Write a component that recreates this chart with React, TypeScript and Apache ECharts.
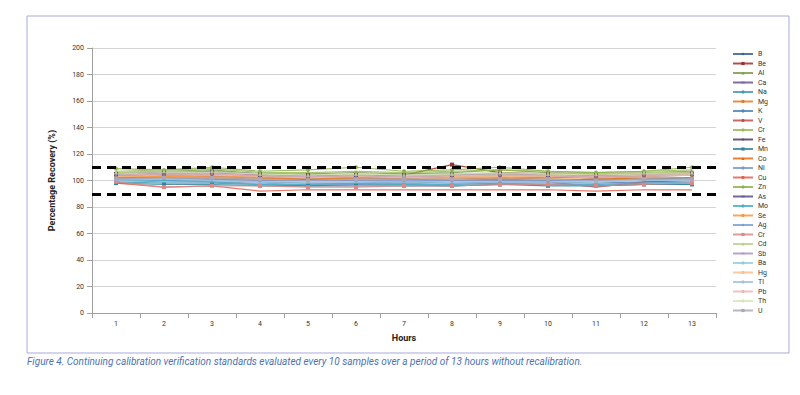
import React, { useEffect, useRef } from "react";
import * as echarts from "echarts";

const hours = ["1", "2", "3", "4", "5", "6", "7", "8", "9", "10", "11", "12", "13"];

const elements = ["B", "Be", "Al", "Ca", "Na", "Mg", "K", "V", "Cr", "Fe", "Mn", "Co", "Ni", "Cu", "Zn", "As", "Mo", "Se", "Ag", "Cr", "Cd", "Sb", "Ba", "Hg", "Tl", "Pb", "Th", "U"];

const B = [103, 104, 103, 102, 101, 102, 101, 100, 101, 100, 101, 101, 102];
const Be = [105, 106, 106, 104, 104, 104, 104, 112, 106, 105, 104, 104, 105];
const Al = [106, 107, 108, 105, 105, 106, 105, 106, 108, 106, 105, 106, 107];
const Ca = [104, 105, 106, 104, 103, 104, 103, 104, 105, 104, 103, 104, 105];
const Na = [99, 98, 98, 97, 96, 97, 97, 96, 97, 97, 96, 97, 97];
const Mg = [102, 103, 104, 102, 101, 102, 102, 103, 103, 102, 103, 104, 104];
const K = [101, 100, 100, 99, 98, 98, 99, 98, 99, 99, 98, 99, 100];
const V = [102, 101, 101, 100, 100, 100, 99, 100, 100, 99, 95, 99, 100];
const Cr = [107, 108, 109, 106, 106, 107, 106, 107, 108, 107, 106, 107, 108];
const Fe = [104, 104, 105, 103, 102, 103, 102, 103, 103, 103, 102, 103, 104];
const Mn = [98, 97, 97, 96, 96, 96, 96, 96, 97, 96, 96, 97, 97];
const Co = [103, 102, 102, 101, 101, 101, 101, 101, 102, 101, 101, 102, 102];
const Ni = [100, 99, 99, 98, 97, 97, 98, 97, 98, 98, 97, 98, 99];
const Cu = [98, 95, 96, 92, 93, 93, 93, 93, 93, 93, 92, 93, 93];
const Zn = [109, 108, 110, 107, 108, 110, 107, 108, 110, 107, 106, 107, 110];
const As = [105, 106, 107, 105, 104, 104, 104, 105, 105, 105, 104, 105, 106];
const Mo = [100, 100, 99, 97, 97, 98, 97, 97, 98, 97, 97, 98, 98];
const Se = [103, 103, 103, 102, 102, 102, 102, 102, 103, 104, 105, 105, 106];
const Ag = [102, 102, 101, 100, 100, 100, 100, 100, 100, 100, 100, 101, 101];
const Cr2 = [99, 95, 96, 96, 95, 95, 96, 96, 97, 97, 96, 97, 98];
const Cd = [106, 107, 107, 105, 104, 105, 104, 105, 106, 105, 105, 106, 106];
const Sb = [104, 104, 105, 103, 102, 103, 103, 103, 104, 103, 103, 104, 104];
const Ba = [101, 101, 100, 99, 99, 99, 99, 99, 99, 99, 99, 100, 100];
const Hg = [103, 104, 104, 103, 102, 103, 102, 103, 103, 103, 102, 103, 104];
const Tl = [100, 101, 100, 99, 99, 99, 99, 99, 99, 99, 99, 100, 100];
const Pb = [104, 105, 105, 104, 103, 104, 103, 104, 104, 104, 103, 104, 104];
const Th = [105, 106, 106, 105, 104, 105, 104, 105, 105, 105, 104, 105, 105];
const U = [101, 102, 102, 101, 100, 101, 101, 101, 101, 101, 100, 101, 101];

const seriesValues = [B, Be, Al, Ca, Na, Mg, K, V, Cr, Fe, Mn, Co, Ni, Cu, Zn, As, Mo, Se, Ag, Cr2, Cd, Sb, Ba, Hg, Tl, Pb, Th, U];

const upperLimit = 110;
const lowerLimit = 90;
const yTicks = { min: 0, max: 200, interval: 20 };

const PLUS = "path://M4,0h2v4h4v2h-4v4h-2v-4h-4v-2h4z";
const CROSS = "path://M1,0L5,4L9,0L10,1L6,5L10,9L9,10L5,6L1,10L0,9L4,5L0,1z";

const colors = [
  "#3b5f8f", "#a0302e", "#7f9a48", "#6a5390", "#3e9ab3", "#e07b2a", "#4F81BD",
  "#C0504D", "#9BBB59", "#4D3B62", "#31859C", "#E46C0A", "#729ACA", "#E0604D",
  "#8DB14B", "#5C4A8C", "#4BACC6", "#F79646", "#7B9FD4", "#D98A88", "#B8CF8A",
  "#A795C2", "#92CDDC", "#FAC090", "#A5BFE0", "#E6B9B8", "#D7E4BC", "#A8A8B8",
];

const symbols = [
  "diamond", "rect", "triangle", CROSS, "none", "circle", "none",
  "none", "none", PLUS, "rect", "triangle", "none", "none",
  "circle", CROSS, "none", "none", "diamond", "rect", "triangle",
  CROSS, "none", "none", "none", "none", "none", "rect",
];

export default function App() {
  const ref = useRef<HTMLDivElement>(null);
  useEffect(() => {
    if (!ref.current) return;
    const chart = echarts.init(ref.current, null, { renderer: "svg" });
    const names = elements.map((e, i) => (elements.indexOf(e) !== i ? e + " " : e));
    const series: any[] = seriesValues.map((vals, i) => ({
      name: names[i],
      type: "line",
      data: vals,
      symbol: symbols[i],
      symbolSize: 4,
      showSymbol: symbols[i] !== "none",
      lineStyle: { width: 1.2, color: colors[i], opacity: 0.85 },
      itemStyle: { color: colors[i] },
    }));
    series.push({
      name: "limits",
      type: "line",
      data: [],
      silent: true,
      markLine: {
        symbol: "none",
        silent: true,
        label: { show: false },
        lineStyle: { color: "#000", type: [9, 6], width: 3 },
        data: [{ yAxis: upperLimit }, { yAxis: lowerLimit }],
      },
    });
    chart.setOption({
      animation: false,
      textStyle: { fontFamily: "Roboto, 'Open Sans', sans-serif" },
      grid: { left: 92, top: 48, width: 624, height: 265 },
      legend: {
        orient: "vertical",
        left: 727,
        top: 45,
        itemWidth: 20,
        itemHeight: 4,
        itemGap: 1.5,
        data: names,
        formatter: (n: string) => n.trim(),
        textStyle: { fontSize: 7, color: "#333", lineHeight: 8 },
      },
      xAxis: {
        type: "category",
        data: hours,
        name: "Hours",
        nameLocation: "middle",
        nameGap: 20,
        nameTextStyle: { fontSize: 9, fontWeight: "bold", color: "#222" },
        axisLine: { lineStyle: { color: "#a0a0a0" } },
        axisTick: { show: true, lineStyle: { color: "#a0a0a0" } },
        axisLabel: { fontSize: 7, color: "#333", margin: 7 },
      },
      yAxis: {
        type: "value",
        min: yTicks.min,
        max: yTicks.max,
        interval: yTicks.interval,
        name: "Percentage Recovery (%)",
        nameLocation: "middle",
        nameGap: 36,
        nameTextStyle: { fontSize: 9, fontWeight: "bold", color: "#222" },
        axisLine: { show: true, lineStyle: { color: "#a0a0a0" } },
        axisTick: { show: true, lineStyle: { color: "#a0a0a0" } },
        axisLabel: { fontSize: 7, color: "#333", margin: 8 },
        splitLine: { lineStyle: { color: "#d4d4d4" } },
      },
      graphic: [
        {
          type: "rect",
          shape: { x: 27, y: 16, width: 762, height: 337 },
          style: { fill: "none", stroke: "#a9a9d9", lineWidth: 1 },
          silent: true,
        },
        {
          type: "text",
          x: 27,
          y: 356,
          style: {
            text: "Figure 4. Continuing calibration verification standards evaluated every 10 samples over a period of 13 hours without recalibration.",
            fontSize: 10,
            fontStyle: "italic",
            fontFamily: "Roboto, sans-serif",
            fill: "#4a72b8",
          },
        },
      ],
      series,
    });
    return () => chart.dispose();
  }, []);
  return <div ref={ref} style={{ position: "absolute", left: 0, top: 0, width: 800, height: 395 }} />;
}
